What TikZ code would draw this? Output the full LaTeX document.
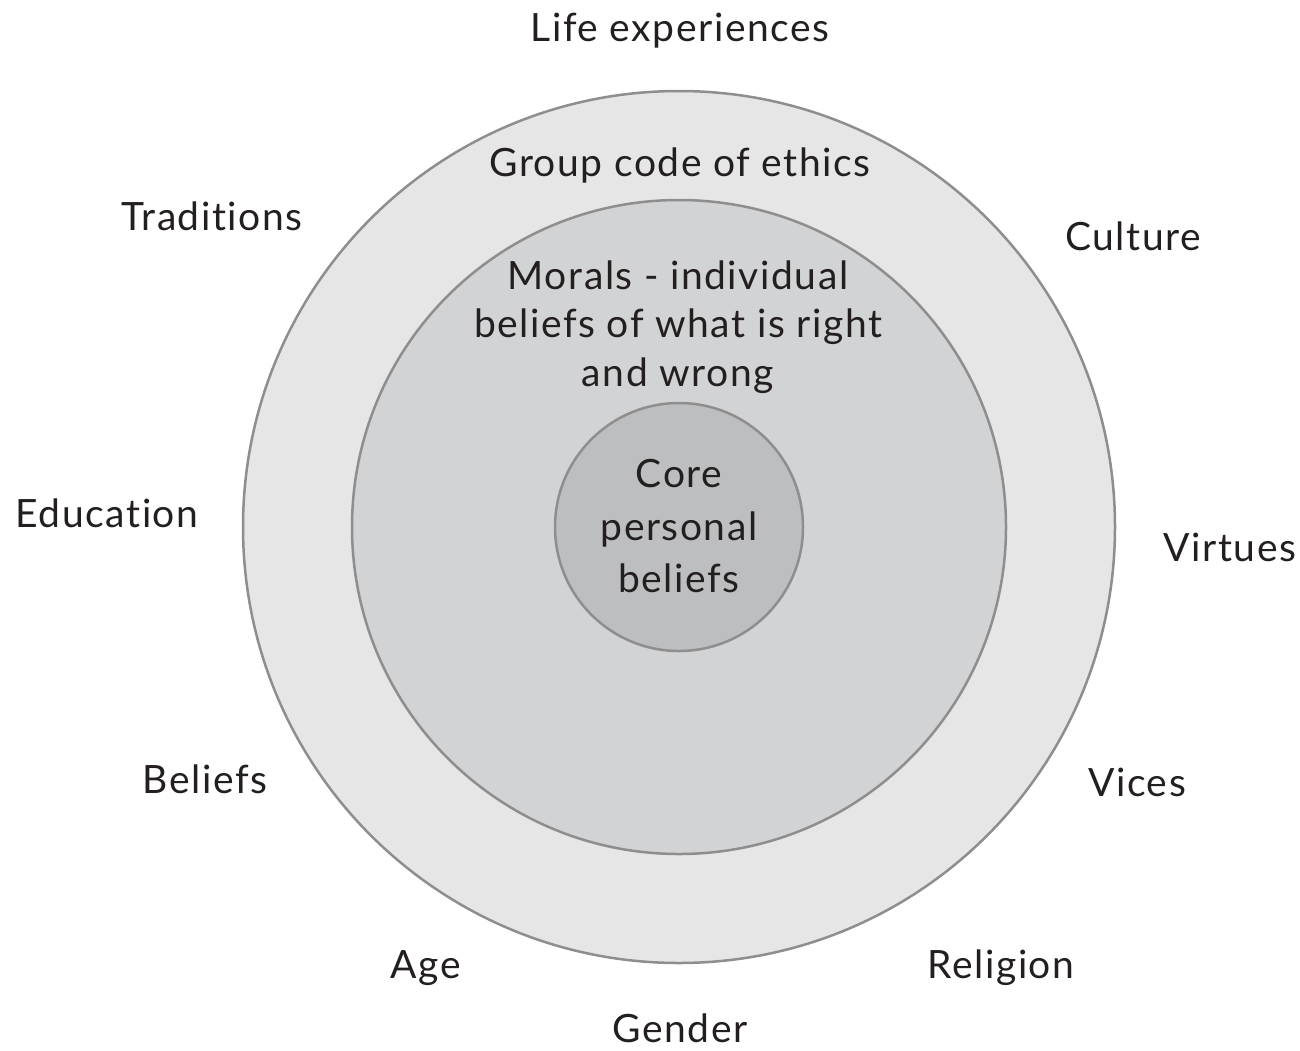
\documentclass[tikz,border=0pt]{standalone}
\usepackage{fontspec}
\setmainfont{Lato}[LetterSpace=4,RawFeature=-liga]
\definecolor{outerfill}{HTML}{E6E6E7}
\definecolor{midfill}{HTML}{D2D3D5}
\definecolor{innerfill}{HTML}{BDBEC0}
\definecolor{ringline}{HTML}{8E8E8E}
\definecolor{txt}{HTML}{231F20}
\begin{document}
\begin{tikzpicture}[x=1pt,y=-1pt,
  ring/.style={circle,draw=ringline,line width=2.5pt,inner sep=0pt},
  lab/.style={anchor=base,text=txt,font=\fontsize{39}{48}\selectfont,inner sep=0pt}]
\useasboundingbox (0,0) rectangle (1300,1050);
\node[ring,fill=outerfill,minimum size=872pt] (outer) at (679,527) {};
\node[ring,fill=midfill,minimum size=654pt] (middle) at (679,527) {};
\node[ring,fill=innerfill,minimum size=248pt] (inner) at (679,527) {};
\node[lab] (life) at (680,41) {Life experiences};
\node[lab] (group) at (680,176) {Group code of ethics};
\node[lab] (trad) at (212,230) {Traditions};
\node[lab] (cult) at (1133,250) {Culture};
\node[lab] (mor1) at (678,289) {Morals - individual};
\node[lab] (mor2) at (678,337) {beliefs of what is right};
\node[lab] (mor3) at (678,386) {and wrong};
\node[lab] (core1) at (679,487) {Core};
\node[lab] (core2) at (679,540) {personal};
\node[lab] (core3) at (679,592) {beliefs};
\node[lab] (edu) at (107,527) {Education};
\node[lab] (virt) at (1230,561) {Virtues};
\node[lab] (bel) at (205,793) {Beliefs};
\node[lab] (vic) at (1137,796) {Vices};
\node[lab] (age) at (426,978) {Age};
\node[lab] (rel) at (1001,978) {Religion};
\node[lab] (gen) at (680,1042) {Gender};
\end{tikzpicture}
\end{document}
